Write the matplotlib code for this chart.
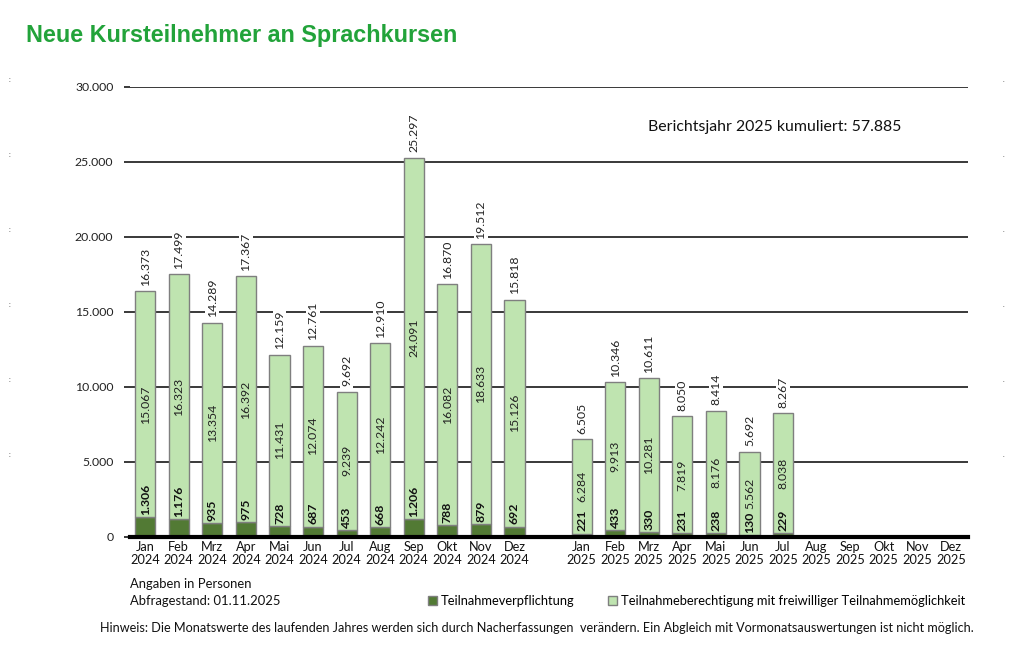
import numpy as np
import matplotlib
matplotlib.use("Agg")
import matplotlib.pyplot as plt
from matplotlib.patches import Patch

plt.rcParams['font.family'] = ['Lato', 'DejaVu Sans']

# data
months = ['Jan', 'Feb', 'Mrz', 'Apr', 'Mai', 'Jun', 'Jul', 'Aug', 'Sep', 'Okt', 'Nov', 'Dez']
years = ['2024', '2025']

pflicht_2024 = [1306, 1176, 935, 975, 728, 687, 453, 668, 1206, 788, 879, 692]
frei_2024 = [15067, 16323, 13354, 16392, 11431, 12074, 9239, 12242, 24091, 16082, 18633, 15126]
pflicht_2025 = [221, 433, 330, 231, 238, 130, 229]
frei_2025 = [6284, 9913, 10281, 7819, 8176, 5562, 8038]
kumuliert_2025 = 57885


def fmt(v):
    return f"{v:,}".replace(",", ".")


dark = '#527a34'
light = '#bfe4b0'
edge = '#7f7f7f'

fig = plt.figure(figsize=(10.24, 6.54), dpi=100)
ax = fig.add_axes([0.127, 0.179, 0.818, 0.688])

# positions: 2024 at 0..11, gap, 2025 at 13..24
x24 = np.arange(12)
x25 = np.arange(13, 13 + len(pflicht_2025))
xall = np.concatenate([np.arange(12), np.arange(13, 25)])
w = 0.6

for xs, p, f in [(x24, pflicht_2024, frei_2024), (x25, pflicht_2025, frei_2025)]:
    p = np.array(p)
    f = np.array(f)
    ax.bar(xs, p, w, color=dark, edgecolor=edge, linewidth=1.0, zorder=3)
    ax.bar(xs, f, w, bottom=p, color=light, edgecolor=edge, linewidth=1.0, zorder=3)
    for xi, pi, fi in zip(xs, p, f):
        tot = pi + fi
        ax.text(xi, tot + 350, fmt(tot), rotation=90, ha='center', va='bottom',
                fontsize=8.8, color='#222222', zorder=5,
                bbox=dict(facecolor='white', edgecolor='none', pad=1.0))
        ax.text(xi, pi + fi / 2, fmt(fi), rotation=90, ha='center', va='center',
                fontsize=8.8, color='#222222', zorder=5)
        ax.text(xi, pi + 150, fmt(pi), rotation=90, ha='center', va='bottom',
                fontsize=8.8, color='#111111', fontweight='bold', zorder=5)

ax.set_xlim(-0.45, 24.5)
ax.set_ylim(0, 30000)
ax.set_yticks(np.arange(0, 30001, 5000))
ax.set_yticklabels([fmt(v) for v in range(0, 30001, 5000)], fontsize=8.8, color='#222222')
ax.yaxis.grid(True, color='#2a2a2a', linewidth=1.3, zorder=0)
ax.set_axisbelow(True)
ax.tick_params(axis='y', length=4, width=1.3, color='#2a2a2a', pad=8)

labels = [f"{m}\n{years[0]}" for m in months] + [f"{m}\n{years[1]}" for m in months]
ax.set_xticks(xall)
ax.set_xticklabels(labels, fontsize=9.2, color='#111111', linespacing=1.1)
ax.tick_params(axis='x', length=0, pad=3)

for s in ['top', 'right', 'left']:
    ax.spines[s].set_visible(False)
ax.spines['bottom'].set_color('black')
ax.spines['bottom'].set_linewidth(3)
ax.spines['bottom'].set_zorder(6)

ax.text(0.618, 0.912, f"Berichtsjahr 2025 kumuliert: {fmt(kumuliert_2025)}",
        transform=ax.transAxes, fontsize=11.4, color='#111111', ha='left', va='center')

fig.text(0.025, 0.945, "Neue Kursteilnehmer an Sprachkursen", fontsize=16.8,
         fontweight='bold', color='#22a33a', family='Liberation Sans', va='center')

fig.text(0.127, 0.107, "Angaben in Personen", fontsize=9.4, color='#111111', va='center')
fig.text(0.127, 0.081, "Abfragestand: 01.11.2025", fontsize=9.4, color='#111111', va='center')
fig.text(0.098, 0.040,
         "Hinweis: Die Monatswerte des laufenden Jahres werden sich durch Nacherfassungen  "
         "verändern. Ein Abgleich mit Vormonatsauswertungen ist nicht möglich.",
         fontsize=9.1, color='#111111', va='center')

handles = [Patch(facecolor=dark, edgecolor=edge), Patch(facecolor=light, edgecolor=edge)]
fig.legend(handles, ["Teilnahmeverpflichtung", "Teilnahmeberechtigung mit freiwilliger Teilnahmemöglichkeit"],
           loc='center', bbox_to_anchor=(0.68, 0.081), ncol=2, frameon=False,
           fontsize=9.3, handlelength=0.7, handleheight=0.7, handletextpad=0.3,
           columnspacing=2.6, borderpad=0)

# small marks at the page edges
for yv in range(5000, 30001, 5000):
    yf = 0.179 + 0.688 * yv / 30000
    fig.text(0.008, yf + 0.012, ':', fontsize=5, color='#555555', va='center')
    fig.text(0.979, yf + 0.012, '.', fontsize=5, color='#555555', va='center')

fig.savefig('out.png', dpi=100)
